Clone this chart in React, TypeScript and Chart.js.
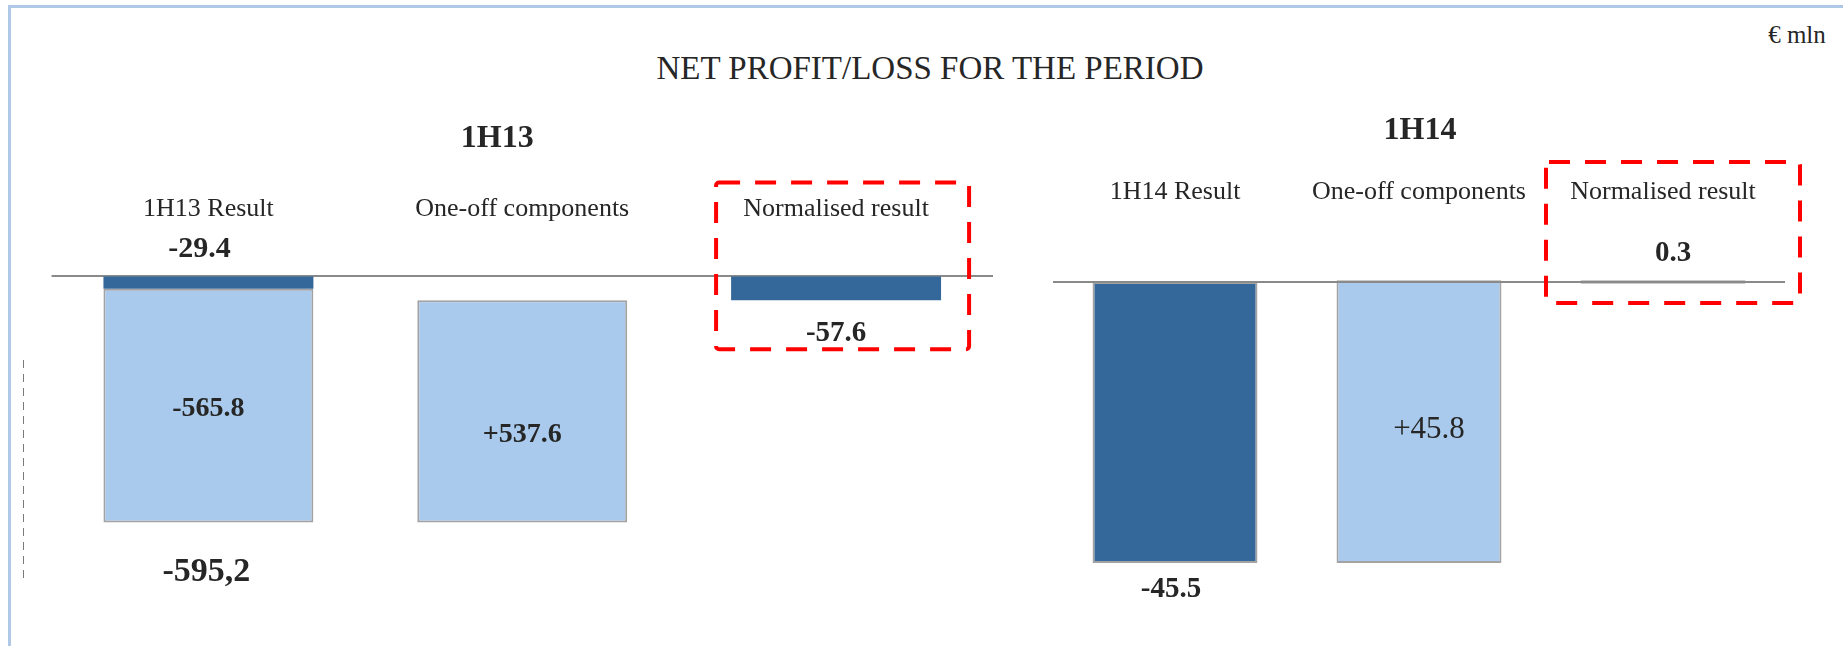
import React, { useEffect, useRef } from "react";
import { Chart, registerables } from "chart.js";

Chart.register(...registerables);

// ---------- DATA ----------
const TITLE = "NET PROFIT/LOSS FOR THE PERIOD";
const UNIT = "€ mln";
const periods = ["1H13", "1H14"];

const categories13 = ["1H13 Result", "One-off components", "Normalised result"];
const categories14 = ["1H14 Result", "One-off components", "Normalised result"];

// 1H13: result, one-off components, normalised result
const values13 = [-595.2, 537.6, -57.6];
// split of the 1H13 result: dark part, light part
const resultSplit13 = [-29.4, -565.8];
const labels13 = ["-29.4", "-565.8", "+537.6", "-57.6", "-595,2"];

// 1H14: result, one-off components, normalised result
const values14 = [-45.5, 45.8, 0.3];
const labels14 = ["-45.5", "+45.8", "0.3"];

// ---------- STYLE ----------
const DARK = "#34679a";
const LIGHT = "#a9caec";
const EDGE = "#a3a3a3";
const AXIS = "#8a8a8a";
const TEXT = "#262626";
const RED = "#ff0000";
const FONT = '"Liberation Serif", "Times New Roman", serif';

function txt(ctx: CanvasRenderingContext2D, s: string, x: number, y: number, size: number, bold: boolean) {
  ctx.save();
  ctx.font = `${bold ? "bold " : ""}${size}px ${FONT}`;
  ctx.fillStyle = TEXT;
  ctx.textAlign = "center";
  ctx.textBaseline = "middle";
  ctx.fillText(s, x, y);
  ctx.restore();
}

function dashedBox(ctx: CanvasRenderingContext2D, x1: number, y1: number, x2: number, y2: number) {
  ctx.save();
  ctx.strokeStyle = RED;
  ctx.lineWidth = 4;
  ctx.setLineDash([21, 15]);
  ctx.lineJoin = "round";
  ctx.beginPath();
  const anyCtx = ctx as any;
  if (anyCtx.roundRect) anyCtx.roundRect(x1, y1, x2 - x1, y2 - y1, 3);
  else ctx.rect(x1, y1, x2 - x1, y2 - y1);
  ctx.stroke();
  ctx.restore();
}

function zeroLine(chart: any, shift: number) {
  const { ctx, chartArea, scales } = chart;
  const y0 = scales.y.getPixelForValue(0) + shift;
  ctx.save();
  ctx.strokeStyle = AXIS;
  ctx.lineWidth = 2;
  ctx.beginPath();
  ctx.moveTo(chartArea.left, y0);
  ctx.lineTo(chartArea.right, y0);
  ctx.stroke();
  ctx.restore();
}

const overlay13 = {
  id: "overlay13",
  beforeDatasetsDraw(chart: any) {
    zeroLine(chart, -0.5);
  },
  afterDatasetsDraw(chart: any) {
    const { ctx, scales } = chart;
    const x = (i: number) => scales.x.getPixelForValue(i);
    const y = (v: number) => scales.y.getPixelForValue(v);
    const z = y(0);
    txt(ctx, periods[0], x(1) - 25, 139, 32, true);
    categories13.forEach((c, i) => txt(ctx, c, x(i), z - 67, 26, false));
    const total = values13[0];
    txt(ctx, labels13[0], x(0) - 9, z - 27, 30, true);
    txt(ctx, labels13[1], x(0), y((resultSplit13[0] + total) / 2) + 3, 28, true);
    txt(ctx, labels13[2], x(1), y(total + values13[1] / 2) + 23, 28, true);
    txt(ctx, labels13[3], x(2), y(values13[2]) + 33, 29, true);
    txt(ctx, labels13[4], x(0) - 2, y(total) + 50, 34, true);
    dashedBox(ctx, x(2) - 120, z - 94, x(2) + 133, y(values13[2]) + 49);
  },
};

const overlay14 = {
  id: "overlay14",
  afterDatasetsDraw(chart: any) {
    zeroLine(chart, 0);
    const { ctx, scales } = chart;
    const x = (i: number) => scales.x.getPixelForValue(i);
    const y = (v: number) => scales.y.getPixelForValue(v);
    const z = y(0);
    txt(ctx, periods[1], x(1) + 1, 131, 32, true);
    categories14.forEach((c, i) => txt(ctx, c, x(i), z - 90, 26, false));
    txt(ctx, labels14[0], x(0) - 4, y(values14[0]) + 26, 29, true);
    txt(ctx, labels14[1], x(1) + 10, y(values14[0] + values14[1] / 2) + 8, 31, false);
    txt(ctx, labels14[2], x(2) + 10, z - 29, 29, true);
    dashedBox(ctx, x(2) - 117, z - 120, x(2) + 137, z + 21);
  },
};

function baseOptions(padding: any, min: number, max: number): any {
  return {
    responsive: false,
    maintainAspectRatio: false,
    animation: false,
    events: [],
    layout: { padding },
    plugins: { legend: { display: false }, tooltip: { enabled: false }, title: { display: false } },
    scales: {
      x: { display: false, offset: true },
      y: { display: false, min, max },
    },
  };
}

export default function App() {
  const leftRef = useRef<HTMLCanvasElement>(null);
  const rightRef = useRef<HTMLCanvasElement>(null);

  useEffect(() => {
    const r = values13[0];
    const left = new Chart(leftRef.current as HTMLCanvasElement, {
      type: "bar",
      data: {
        labels: categories13,
        datasets: [
          {
            label: "dark",
            data: [[0, resultSplit13[0]], null, [0, values13[2]]] as any,
            backgroundColor: DARK,
            borderWidth: 0,
            grouped: false,
            barPercentage: 0.669,
            categoryPercentage: 1,
          } as any,
          {
            label: "light",
            data: [[resultSplit13[0], r], [r, r + values13[1]], null] as any,
            backgroundColor: LIGHT,
            borderColor: EDGE,
            borderWidth: 2,
            borderSkipped: false,
            grouped: false,
            barPercentage: 0.669,
            categoryPercentage: 1,
          } as any,
        ],
      },
      options: baseOptions({ left: 51.5, right: 37, top: 193.8, bottom: 38.8 }, -800, 200),
      plugins: [overlay13],
    });

    const right = new Chart(rightRef.current as HTMLCanvasElement, {
      type: "bar",
      data: {
        labels: categories14,
        datasets: [
          {
            label: "dark",
            data: [[0, values14[0]], null, null] as any,
            backgroundColor: DARK,
            borderColor: EDGE,
            borderWidth: 2,
            borderSkipped: false,
            grouped: false,
            barPercentage: 0.676,
            categoryPercentage: 1,
          } as any,
          {
            label: "light",
            data: [null, [values14[0], values14[0] + values14[1]], [0, values14[2]]] as any,
            backgroundColor: LIGHT,
            borderColor: EDGE,
            borderWidth: 2,
            borderSkipped: false,
            minBarLength: 3.5,
            grouped: false,
            barPercentage: 0.676,
            categoryPercentage: 1,
          } as any,
        ],
      },
      options: baseOptions({ left: 23, right: 58, top: 158.5, bottom: 24.3 }, -55, 20),
      plugins: [overlay14],
    });

    return () => {
      left.destroy();
      right.destroy();
    };
  }, []);

  const textStyle = (x: number, y: number, size: number, lh: number): React.CSSProperties => ({
    position: "absolute",
    left: x,
    top: y - lh / 2,
    height: lh,
    lineHeight: `${lh}px`,
    fontSize: size,
    fontFamily: FONT,
    color: TEXT,
    whiteSpace: "nowrap",
    transform: "translateX(-50%)",
  });

  return (
    <div
      style={{
        position: "fixed",
        left: 0,
        top: 0,
        width: 1843,
        height: 646,
        background: "#ffffff",
        overflow: "hidden",
      }}
    >
      <div style={{ position: "absolute", left: 8, top: 5, width: 1843, height: 3, background: "#aec8e6" }} />
      <div style={{ position: "absolute", left: 8, top: 5, width: 3, height: 646, background: "#aec8e6" }} />
      <div
        style={{
          position: "absolute",
          left: 23,
          top: 360,
          width: 1,
          height: 218,
          background: "repeating-linear-gradient(to bottom, #7a7a7a 0px, #7a7a7a 8px, transparent 8px, transparent 14px)",
        }}
      />
      <div style={textStyle(930, 68, 33, 40)}>{TITLE}</div>
      <div style={textStyle(1797, 35, 25, 30)}>{UNIT}</div>
      <canvas
        ref={leftRef}
        width={1030}
        height={646}
        style={{ position: "absolute", left: 0, top: 0, width: 1030, height: 646 }}
      />
      <canvas
        ref={rightRef}
        width={813}
        height={646}
        style={{ position: "absolute", left: 1030, top: 0, width: 813, height: 646 }}
      />
    </div>
  );
}
